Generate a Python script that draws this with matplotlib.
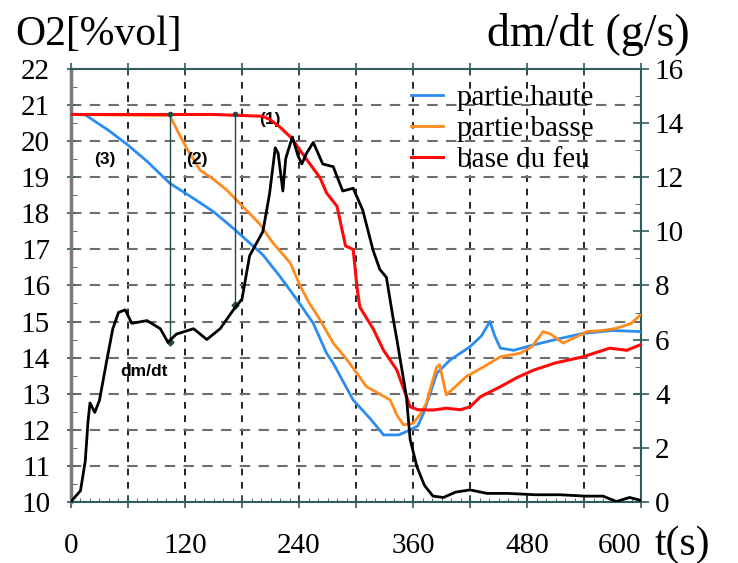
import matplotlib
matplotlib.use("Agg")
import matplotlib.pyplot as plt
from matplotlib.ticker import MultipleLocator, FuncFormatter

# O2 concentrations [%vol]
t_haute = [0, 15, 40, 60, 80, 104, 130, 150, 173, 202, 220, 238, 255, 269, 276, 297, 315, 329, 345,
           357, 365, 371, 378, 385, 399, 420, 432, 441, 446, 452, 466, 487, 510, 539, 570, 599]
o2_haute = [20.75, 20.74, 20.3, 19.9, 19.45, 18.84, 18.4, 18.05, 17.54, 16.85, 16.25, 15.6, 14.95, 14.12,
            13.84, 12.82, 12.3, 11.85, 11.85, 11.99, 12.1, 12.45, 13.0, 13.56, 13.93, 14.3, 14.6, 15.0,
            14.6, 14.26, 14.2, 14.35, 14.5, 14.67, 14.75, 14.72]

t_basse = [0, 104, 112, 122, 136, 150, 164, 181, 199, 212, 231, 241, 250, 262, 276, 288, 300, 311, 324,
           336, 343, 350, 360, 367, 374, 380, 385, 388, 395, 405, 416, 435, 452, 473, 485, 497, 505, 518,
           530, 543, 560, 574, 590, 599]
o2_basse = [20.75, 20.72, 20.3, 19.8, 19.2, 18.95, 18.65, 18.19, 17.7, 17.2, 16.62, 16.0, 15.55, 15.05,
            14.4, 14.02, 13.6, 13.19, 13.0, 12.82, 12.4, 12.13, 12.17, 12.4, 12.73, 13.3, 13.74, 13.8,
            12.96, 13.2, 13.47, 13.75, 14.02, 14.12, 14.3, 14.72, 14.65, 14.4, 14.55, 14.72, 14.75,
            14.81, 14.95, 15.18]

t_feu = [0, 150, 202, 210, 220, 232, 248, 262, 269, 280, 289, 297, 301, 304, 318, 329, 343, 357, 365,
         381, 395, 410, 420, 431, 452, 470, 487, 510, 539, 567, 585, 599]
o2_feu = [20.75, 20.75, 20.7, 20.6, 20.4, 20.1, 19.5, 19.0, 18.57, 18.2, 17.1, 17.0, 15.97, 15.4, 14.8,
          14.2, 13.65, 12.63, 12.55, 12.54, 12.59, 12.55, 12.63, 12.91, 13.19, 13.45, 13.65, 13.85,
          14.02, 14.26, 14.2, 14.35]

# mass loss rate dm/dt [g/s]
t_dm = [0, 10, 15, 18, 20, 25, 30, 37, 44, 50, 57, 64, 80, 94, 102, 111, 129, 143, 157, 171, 180, 188,
        202, 209, 215, 218, 223, 226, 233, 239, 243, 248, 255, 265, 276, 286, 297, 307, 318, 325, 332,
        339, 343, 353, 357, 364, 372, 381, 392, 405, 420, 438, 460, 489, 515, 541, 560, 574, 588, 599]
dmdt = [0.0, 0.4, 1.5, 3.0, 3.65, 3.3, 3.75, 5.1, 6.4, 7.0, 7.1, 6.6, 6.7, 6.4, 5.9, 6.2, 6.4, 6.0, 6.4,
        7.1, 7.5, 9.1, 10.0, 11.4, 13.1, 12.9, 11.5, 12.7, 13.5, 12.8, 12.5, 12.9, 13.3, 12.5, 12.4,
        11.5, 11.6, 10.8, 9.3, 8.6, 8.3, 6.8, 6.0, 3.9, 2.3, 1.3, 0.6, 0.2, 0.15, 0.35, 0.43, 0.3, 0.3,
        0.25, 0.25, 0.2, 0.2, 0.0, 0.15, 0.05]

# phase markers (vertical lines) and annotations
phase_t = [104, 172.5]
phase_top = [20.75, 20.75]
phase_bottom = [14.43, 15.45]

serif = "Liberation Serif"
teal = "#2f5c5c"

fig = plt.figure(figsize=(7.38, 5.63), dpi=100)
ax = fig.add_axes([0.0962, 0.1092, 0.7724, 0.7674])

ax.plot(t_haute, o2_haute, color="#2b8cf2", lw=2.0, label="partie haute", zorder=3)
ax.plot(t_basse, o2_basse, color="#ff8a1e", lw=2.0, label="partie basse", zorder=3)
ax.plot(t_feu, o2_feu, color="#ff0a0a", lw=2.2, label="base du feu", zorder=4)

for tx, top, bot in zip(phase_t, phase_top, phase_bottom):
    ax.plot([tx, tx], [top, bot], color="#1f4a4a", lw=1.0, zorder=5)
    ax.plot([tx], [top], marker="o", ms=3, color="#1f4a4a", zorder=5)
    ax.plot([tx], [bot], marker="D", ms=3.5, color="#1f4a4a", zorder=5)

ax.set_xlim(0, 600)
ax.set_ylim(10, 22)
ax.xaxis.set_major_locator(MultipleLocator(60))
ax.xaxis.set_minor_locator(MultipleLocator(10))
ax.xaxis.set_major_formatter(FuncFormatter(lambda v, p: "%d" % round(v) if round(v) % 120 == 0 else ""))
ax.yaxis.set_major_locator(MultipleLocator(1))
ax.yaxis.set_minor_locator(MultipleLocator(0.5))

ax.xaxis.grid(True, color="black", ls=(0, (4, 4)), lw=1.2)
ax.yaxis.grid(True, color="#6e6e6e", ls=(0, (5, 4)), lw=1.5)
ax.set_axisbelow(True)

ax.tick_params(axis="x", which="major", direction="inout", length=8, width=1.2, color=teal,
               labelsize=21, pad=19, top=True)
ax.tick_params(axis="x", which="minor", direction="in", length=3, color=teal)
ax.tick_params(axis="y", which="major", direction="inout", length=6, width=1.2, color=teal,
               labelsize=21, pad=12)
ax.tick_params(axis="y", which="minor", direction="in", length=4, color=teal)
for lab in ax.get_xticklabels() + ax.get_yticklabels():
    lab.set_fontfamily(serif)

for side in ["top", "bottom", "right"]:
    ax.spines[side].set_color(teal)
    ax.spines[side].set_linewidth(1.5)
ax.spines["left"].set_color("#7a7a7a")
ax.spines["left"].set_linewidth(2.5)

ax2 = ax.twinx()
ax2.plot(t_dm, dmdt, color="black", lw=2.0, zorder=3)
ax2.set_ylim(0, 16)
ax2.yaxis.set_major_locator(MultipleLocator(2))
ax2.yaxis.set_minor_locator(MultipleLocator(1))
ax2.tick_params(axis="y", which="major", direction="inout", length=12, width=1.2, color=teal,
                labelsize=21, pad=4)
ax2.tick_params(axis="y", which="minor", direction="in", length=4, color=teal)
for lab in ax2.get_yticklabels():
    lab.set_fontfamily(serif)
for side in ["top", "bottom", "right", "left"]:
    ax2.spines[side].set_visible(False)

note_font = dict(fontsize=12.5, fontweight="bold", family="Liberation Sans", ha="center", va="center")
ax.text(36, 19.5, "(3)", **note_font)
ax.text(133, 19.5, "(2)", **note_font)
ax.text(209, 20.6, "(1)", **note_font)
ax.text(77, 13.6, "dm/dt", **note_font)

leg = ax.legend(loc="upper left", bbox_to_anchor=(0.55, 1.025), frameon=False,
                prop={"family": serif, "size": 21}, handlelength=1.1, handletextpad=0.5,
                labelspacing=0.15)

fig.text(15 / 738, 1 - 35 / 563, "O2[%vol]", fontsize=30, family=serif, ha="left", va="center")
fig.text(690 / 738, 1 - 35 / 563, "dm/dt (g/s)", fontsize=33, family=serif, ha="right", va="center")
fig.text(655 / 738, 1 - 545 / 563, "t(s)", fontsize=30, family=serif, ha="left", va="center")

# push the last x label left so it clears "t(s)", as in the original
fig.canvas.draw()
for tick in ax.xaxis.get_major_ticks():
    if abs(tick.get_loc() - 600) < 1:
        tick.label1.set_horizontalalignment("right")

fig.savefig("out.png", dpi=100)
